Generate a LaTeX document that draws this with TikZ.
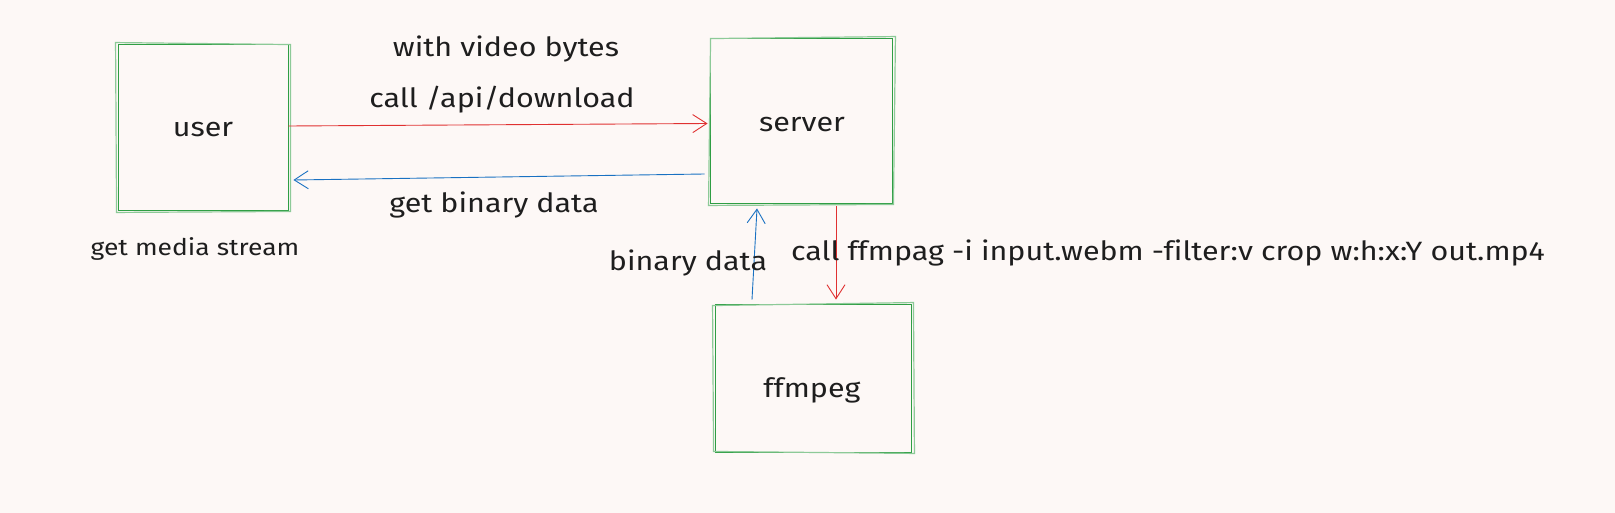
\documentclass[tikz,border=0pt]{standalone}
\usepackage{fontspec}
\setmainfont[FakeStretch=1.15,Ligatures=NoCommon]{Fira Sans}
\usetikzlibrary{arrows.meta,calc}
\definecolor{bgc}{RGB}{253,248,246}
\definecolor{boxgreen}{RGB}{47,158,68}
\definecolor{redc}{RGB}{224,49,49}
\definecolor{bluec}{RGB}{25,113,194}
\definecolor{inkc}{RGB}{30,30,30}
\tikzset{
  box/.style={draw=boxgreen, line width=0.9pt, inner sep=0pt},
  boxghost/.style={draw=boxgreen!55, line width=1.2pt},
  lbl/.style={text=inkc, font=\fontsize{26.5}{30}\selectfont, inner sep=0pt, anchor=base},
  lblsmall/.style={text=inkc, font=\fontsize{23}{27}\selectfont, inner sep=0pt, anchor=base},
  tip/.style={-{Straight Barb[length=14pt,width=18pt,line width=0.9pt]}},
  redarrow/.style={draw=redc, line width=0.9pt, tip},
  bluearrow/.style={draw=bluec, line width=0.9pt, tip},
}
\begin{document}
\begin{tikzpicture}[x=1pt,y=-1pt]
\useasboundingbox[fill=bgc] (0,0) rectangle (1615,513);
% boxes
\node[box, minimum width=170pt, minimum height=166pt] (user) at (203,127) {};
\node[box, minimum width=182pt, minimum height=165pt] (server) at (801,120.5) {};
\node[box, minimum width=196pt, minimum height=148pt] (ffmpeg) at (813,378) {};
% sketchy second strokes
\draw[boxghost] ($(user.north west)+(-2,-1)$) -- ($(user.north east)+(2,1)$) -- ($(user.south east)+(2,1)$) -- ($(user.south west)+(-1,2)$) -- cycle;
\draw[boxghost] ($(server.north west)+(1,1)$) -- ($(server.north east)+(3,-1)$) -- ($(server.south east)+(1,1)$) -- ($(server.south west)+(-1,2)$) -- cycle;
\draw[boxghost] ($(ffmpeg.north west)+(-2,2)$) -- ($(ffmpeg.north east)+(2,-1)$) -- ($(ffmpeg.south east)+(3,1)$) -- ($(ffmpeg.south west)+(-1,-1)$) -- cycle;
% box texts
\node[lbl] (usert) at ($(user.center)+(0,10)$) {user};
\node[lbl] (servert) at ($(server.center)+(1,11.5)$) {server};
\node[lbl] (ffmpegt) at ($(ffmpeg.center)+(-1,19)$) {ffmpeg};
% connectors
\coordinate (a1) at ($(user.east)+(0,-1)$);
\coordinate (a2) at ($(server.west)+(-2,3)$);
\draw[redarrow] (a1) -- (a2);
\coordinate (b1) at ($(server.west)+(-5,53.5)$);
\coordinate (b2) at ($(user.east)+(5,53)$);
\draw[bluearrow] (b1) -- (b2);
\coordinate (c1) at ($(server.south)+(35,3)$);
\coordinate (c2) at ($(ffmpeg.north)+(23,-4)$);
\draw[redarrow] (c1) -- (c2);
\coordinate (d1) at ($(ffmpeg.north)+(-61,-4)$);
\coordinate (d2) at ($(server.south)+(-44,5)$);
\draw[bluearrow] (d1) -- (d2);
% labels
\node[lbl] (l1) at (506,57) {with video bytes};
\node[lbl] (l2) at (502,108) {call /api/download};
\node[lbl] (l3) at (494,213) {get binary data};
\node[lblsmall] (l4) at (195,256) {get media stream};
\node[lbl] (l5) at (688,270) {binary data};
\node[lbl] (l6) at (1168,261) {call ffmpag -i input.webm -filter:v crop w:h:x:Y out.mp4};
\end{tikzpicture}
\end{document}
